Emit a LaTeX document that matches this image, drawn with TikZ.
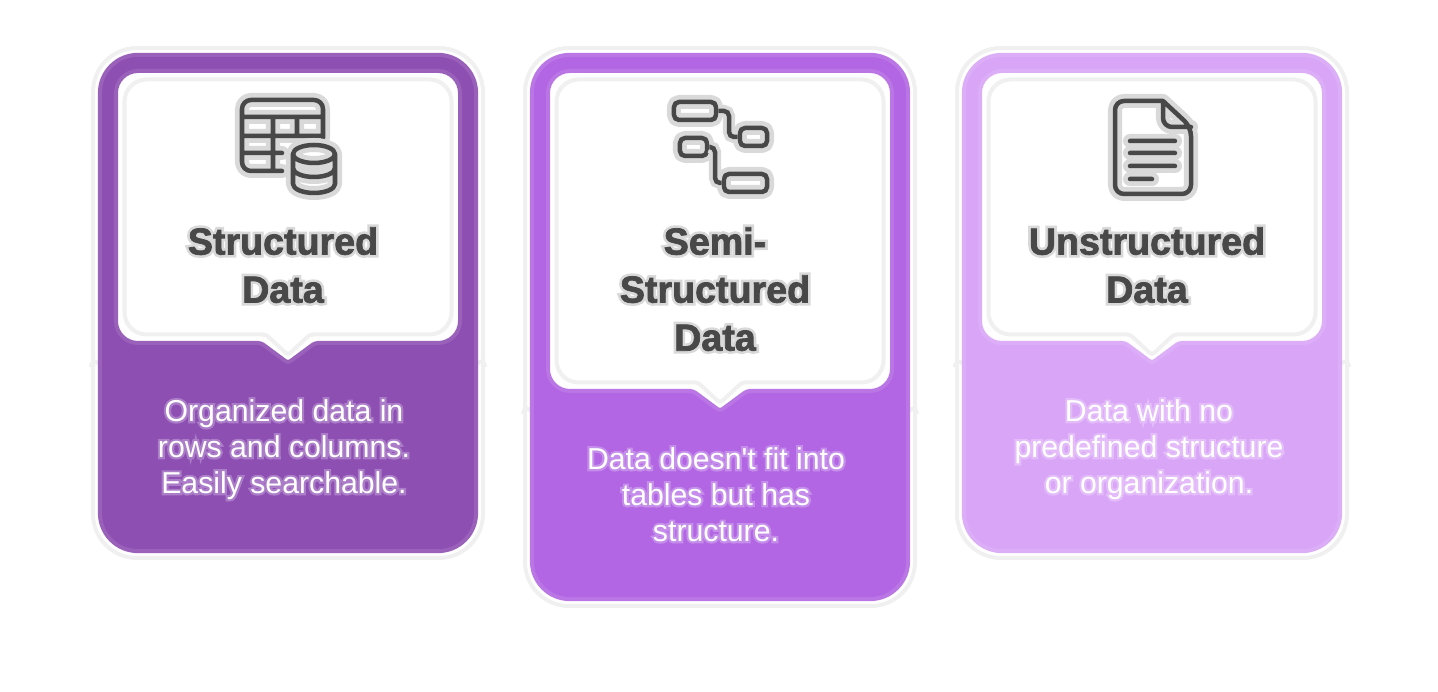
\documentclass[tikz,border=0pt]{standalone}
\usepackage{fontspec}
\setmainfont{Liberation Sans}[Ligatures=TeXOff, BoldFeatures={FakeBold=2}]
\newfontfamily\titleglow{Liberation Sans}[BoldFeatures={FakeBold=16}]
\newfontfamily\bodyglow{Liberation Sans}[Ligatures=TeXOff, FakeBold=14]

\definecolor{darkcard}{HTML}{8E4FB3}
\definecolor{darkedge}{HTML}{9A61BB}
\definecolor{darkglow}{HTML}{AB7CC8}
\definecolor{midcard}{HTML}{B266E3}
\definecolor{midedge}{HTML}{BA76E5}
\definecolor{midglow}{HTML}{C58EEA}
\definecolor{lightcard}{HTML}{D9A6F7}
\definecolor{lightedge}{HTML}{DCAEF7}
\definecolor{lightglow}{HTML}{E3BCF9}
\definecolor{ringgray}{HTML}{F0F0F0}
\definecolor{inkgray}{HTML}{484848}
\definecolor{halogray}{HTML}{D9D9D9}

% callout outline: left, right, top, bottom, centre, tip, half base
\newcommand{\bubblepath}[7]{
    [rounded corners=0.22cm] (#1,#3) -- (#2,#3) -- (#2,#4)
    [rounded corners=0.03cm] -- (#5+#7,#4) -- (#5,#6) -- (#5-#7,#4)
    [rounded corners=0.22cm] -- (#1,#4) -- cycle
}
\newcommand{\titlerow}[1]{\strut\rlap{\textcolor{halogray}{\titleglow #1}}#1}
\newcommand{\bodyrow}[2]{\strut\rlap{\textcolor{#1}{\bodyglow #2}}#2}

\tikzset{
    ringline/.style={draw=ringgray, line width=0.04cm, rounded corners=0.44cm},
    seamline/.style={draw=ringgray, line width=0.04cm},
    cardbox/.style={rectangle, rounded corners=0.38cm, line width=0.04cm, minimum width=3.76cm, inner sep=0pt},
    cardtitle/.style={align=center, text=inkgray, inner sep=0pt, font=\fontsize{10.7}{13.66}\selectfont\bfseries},
    cardbody/.style={align=center, text=white, inner sep=0pt, font=\fontsize{8.6}{10.24}\selectfont},
    iconline/.style={draw=inkgray, line width=0.045cm, line cap=round, line join=round, rounded corners=0.05cm,
        preaction={draw=halogray, line width=0.14cm, line cap=round, line join=round}},
    iconwire/.style={draw=inkgray, line width=0.045cm, rounded corners=0.05cm,
        preaction={draw=halogray, line width=0.12cm}},
    iconbox/.style={rectangle, iconline, inner sep=0pt},
}

\begin{document}
\begin{tikzpicture}[x=0.01cm, y=-0.01cm]
    \useasboundingbox (0,0) rectangle (1438,692);

    % outer rings
    \draw[ringline] (93,48) rectangle (483,558);
    \draw[ringline] (525,48) rectangle (915,606);
    \draw[ringline] (957,48) rectangle (1347,558);
    \draw[seamline] (91,367) .. controls (91,360) and (100,360) .. (100,367);
    \draw[seamline] (476,367) .. controls (476,360) and (485,360) .. (485,367);
    \draw[seamline] (523,414) .. controls (523,407) and (532,407) .. (532,414);
    \draw[seamline] (908,414) .. controls (908,407) and (917,407) .. (917,414);
    \draw[seamline] (955,367) .. controls (955,360) and (964,360) .. (964,367);
    \draw[seamline] (1340,367) .. controls (1340,360) and (1349,360) .. (1349,367);

    % cards
    \node[cardbox, fill=darkcard, draw=darkedge, minimum height=4.96cm] (cardone) at (288,303) {};
    \node[cardbox, fill=midcard, draw=midedge, minimum height=5.44cm] (cardtwo) at (720,327) {};
    \node[cardbox, fill=lightcard, draw=lightedge, minimum height=4.96cm] (cardthree) at (1152,303) {};

    % callouts
    \draw[fill=white, draw=darkedge, line width=0.04cm] \bubblepath{116}{460}{71}{343}{288}{363}{27};
    \draw[draw=ringgray, line width=0.04cm] \bubblepath{124.5}{451.5}{79.5}{334.5}{288}{355}{22};
    \draw[fill=white, draw=midedge, line width=0.04cm] \bubblepath{548}{892}{71}{391}{720}{411}{27};
    \draw[draw=ringgray, line width=0.04cm] \bubblepath{556.5}{883.5}{79.5}{382.5}{720}{403}{22};
    \draw[fill=white, draw=lightedge, line width=0.04cm] \bubblepath{980}{1324}{71}{343}{1152}{363}{27};
    \draw[draw=ringgray, line width=0.04cm] \bubblepath{988.5}{1315.5}{79.5}{334.5}{1152}{355}{22};

    % table icon
    \draw[iconline, rounded corners=0.09cm] (282,171) -- (242,171) -- (242,100) -- (323,100) -- (323,138)
        (242,117) -- (323,117) (242,136) -- (323,136) (242,153) -- (282,153)
        (273,117) -- (273,171) (297,117) -- (297,136);
    \fill[white] (314,169) ellipse[x radius=21, y radius=24];
    \draw[iconline, rounded corners=0pt, preaction={draw=halogray, line width=0.1cm}]
        (293,154) arc[start angle=180, end angle=-180, x radius=21, y radius=9]
        (293,154) -- (293,184) arc[start angle=180, end angle=0, x radius=21, y radius=9] -- (335,154)
        (293,168) arc[start angle=180, end angle=0, x radius=21, y radius=9];

    % tree icon
    \node[iconbox, minimum width=0.42cm, minimum height=0.18cm] (leafa) at (695,111) {};
    \node[iconbox, minimum width=0.27cm, minimum height=0.18cm] (leafb) at (753.5,137) {};
    \node[iconbox, minimum width=0.27cm, minimum height=0.18cm] (leafc) at (693.5,147) {};
    \node[iconbox, minimum width=0.43cm, minimum height=0.18cm] (leafd) at (745.5,183) {};
    \coordinate (benda) at (729,124);
    \coordinate (bendb) at (715,165);
    \draw[iconwire] (leafa.east) -| (benda) |- (leafb.west);
    \draw[iconwire] (leafc.east) -| (bendb) |- (leafd.west);

    % page icon
    \draw[iconline, rounded corners=0.09cm] (1163,101) -- (1115,101) -- (1115,194) -- (1191,194) -- (1191,127)
        [rounded corners=0pt] -- (1163,101) [rounded corners=0.09cm] -- (1163,127) -- (1191,127)
        (1130,141) -- (1175,141) (1130,153) -- (1175,153) (1130,166) -- (1175,166) (1130,179) -- (1152,179);

    % titles
    \node[cardtitle] (titleone) at (283,269) {\titlerow{Structured}\\\titlerow{Data}};
    \node[cardtitle] (titletwo) at (715,293) {\titlerow{Semi-}\\\titlerow{Structured}\\\titlerow{Data}};
    \node[cardtitle] (titlethree) at (1147,269) {\titlerow{Unstructured}\\\titlerow{Data}};

    % descriptions
    \node[cardbody] (textone) at (284,450) {\bodyrow{darkglow}{Organized data in}\\\bodyrow{darkglow}{rows and columns.}\\\bodyrow{darkglow}{Easily searchable.}};
    \node[cardbody] (texttwo) at (716,498) {\bodyrow{midglow}{Data doesn't fit into}\\\bodyrow{midglow}{tables but has}\\\bodyrow{midglow}{structure.}};
    \node[cardbody] (textthree) at (1149,450) {\bodyrow{lightglow}{Data with no}\\\bodyrow{lightglow}{predefined structure}\\\bodyrow{lightglow}{or organization.}};
\end{tikzpicture}
\end{document}
